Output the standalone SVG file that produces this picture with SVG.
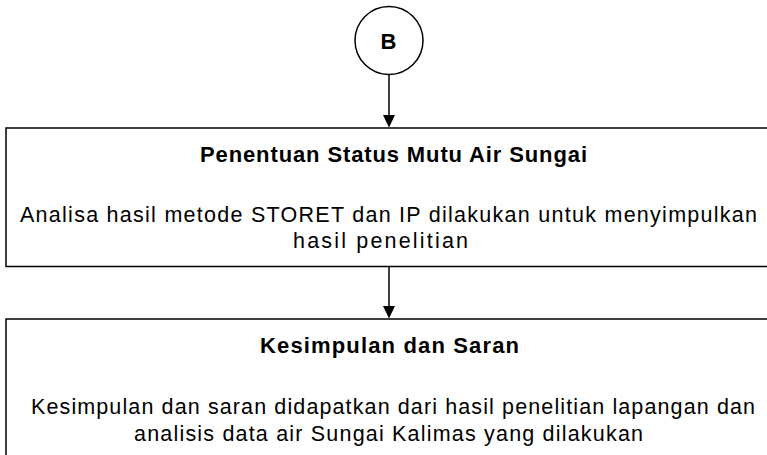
<svg xmlns="http://www.w3.org/2000/svg" width="767" height="455" viewBox="0 0 767 455">
<style>
.box{fill:#fff;stroke:#000;stroke-width:1.5}
.t{font-family:"Liberation Sans",Arial,sans-serif;fill:#000}
.h{font-size:22px;font-weight:bold}
.b{font-size:21.5px}
.c{stroke:#000;stroke-width:1.5;fill:none}
</style>
<rect width="767" height="455" fill="#fff"/>
<g id="connectors">
<line class="c" x1="389" y1="74.5" x2="389" y2="116"/>
<path d="M383,115 L395,115 L389,127.5 Z" fill="#000"/>
<line class="c" x1="389" y1="267" x2="389" y2="307"/>
<path d="M383,306 L395,306 L389,318.5 Z" fill="#000"/>
</g>
<g id="nodeB">
<circle cx="389" cy="40.5" r="34" fill="#fff" stroke="#000" stroke-width="1.5"/>
<text class="t h" x="388.5" y="49" text-anchor="middle">B</text>
</g>
<g id="node1">
<rect class="box" x="6" y="128" width="790" height="138.5"/>
<text class="t h" x="200" y="162.3" textLength="387" lengthAdjust="spacing">Penentuan Status Mutu Air Sungai</text>
<text class="t b" x="20" y="221.7" textLength="737" lengthAdjust="spacing">Analisa hasil metode STORET dan IP dilakukan untuk menyimpulkan</text>
<text class="t b" x="293" y="248.3" textLength="175" lengthAdjust="spacing">hasil penelitian</text>
</g>
<g id="node2">
<rect class="box" x="6" y="319" width="790" height="160"/>
<text class="t h" x="260" y="353.3" textLength="259" lengthAdjust="spacing">Kesimpulan dan Saran</text>
<text class="t b" x="31" y="414.3" textLength="724" lengthAdjust="spacing">Kesimpulan dan saran didapatkan dari hasil penelitian lapangan dan</text>
<text class="t b" x="134" y="441" textLength="509" lengthAdjust="spacing">analisis data air Sungai Kalimas yang dilakukan</text>
</g>
</svg>
